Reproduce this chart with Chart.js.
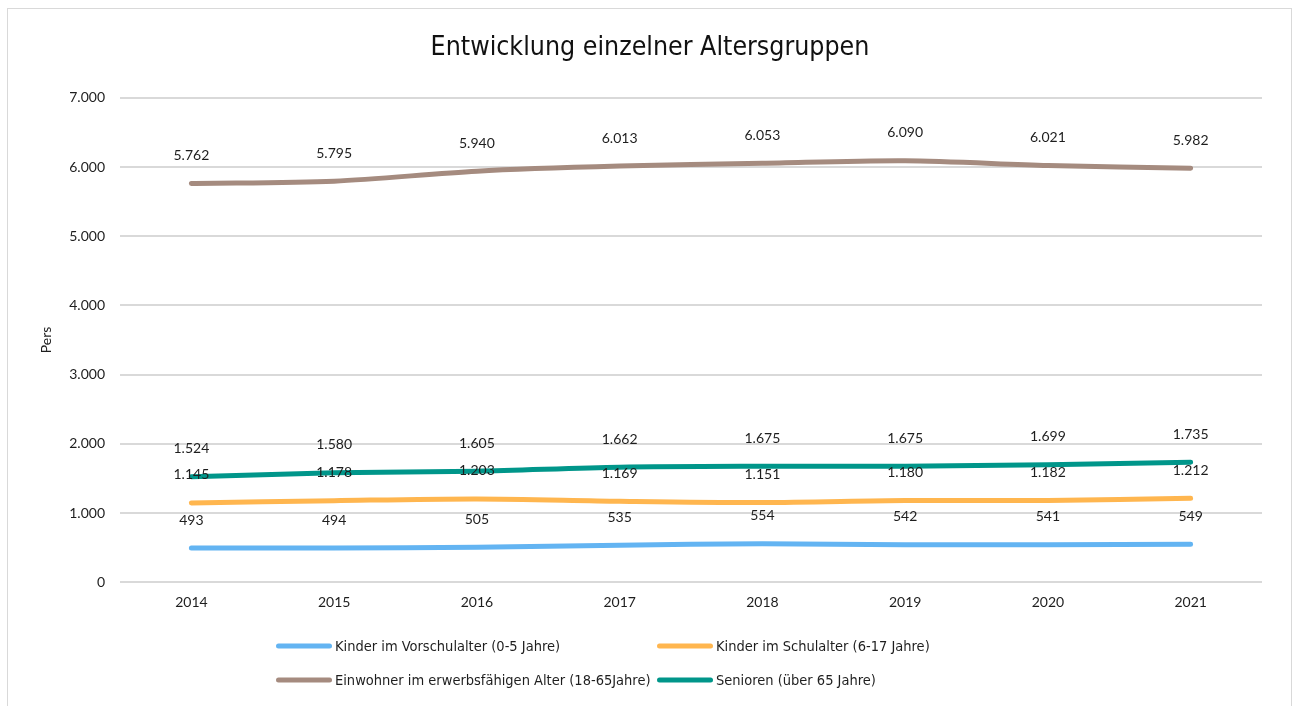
<!DOCTYPE html>
<html>
<head>
<meta charset="utf-8">
<script src="https://cdn.jsdelivr.net/npm/chart.js@4"></script>
<style>
  html, body { margin: 0; padding: 0; background: #fff; }
  #wrap { position: absolute; left: 0; top: 0; width: 1293px; height: 706px; }
</style>
</head>
<body>
<div id="wrap"><canvas id="ageChart"></canvas></div>
<script>
const years = ['2014', '2015', '2016', '2017', '2018', '2019', '2020', '2021'];
const vorschule = [493, 494, 505, 535, 554, 542, 541, 549];
const schule = [1145, 1178, 1203, 1169, 1151, 1180, 1182, 1212];
const erwerb = [5762, 5795, 5940, 6013, 6053, 6090, 6021, 5982];
const senioren = [1524, 1580, 1605, 1662, 1675, 1675, 1699, 1735];

const yTicks = [0, 1000, 2000, 3000, 4000, 5000, 6000, 7000];

// 1234 -> "1.234"
function fmt(v) {
    return String(Math.round(v)).replace(/\B(?=(\d{3})+(?!\d))/g, '.');
}

const font = "Lato, 'Open Sans', sans-serif";
const narrow = "'DejaVu Sans Condensed', Lato, sans-serif";
const textColor = '#1e1e1e';

// value labels above every point
const valueLabels = {
    id: 'valueLabels',
    afterDatasetsDraw(chart) {
        const ctx = chart.ctx;
        ctx.save();
        ctx.font = '14px ' + font;
        ctx.fillStyle = textColor;
        ctx.textAlign = 'center';
        ctx.textBaseline = 'middle';
        chart.data.datasets.forEach((ds, i) => {
            chart.getDatasetMeta(i).data.forEach((pt, j) => {
                ctx.fillText(fmt(ds.data[j]), pt.x, pt.y - 28);
            });
        });
        ctx.restore();
    }
};

// frame + two-column legend under the axis
const frameAndLegend = {
    id: 'frameAndLegend',
    beforeDraw(chart) {
        const ctx = chart.ctx;
        ctx.save();
        ctx.strokeStyle = '#d9d9d9';
        ctx.lineWidth = 1;
        ctx.strokeRect(7.5, 8.5, 1284, 710);
        ctx.restore();
    },
    afterDraw(chart) {
        const ctx = chart.ctx;
        const cols = [276, 657];
        const rows = [646, 680];
        ctx.save();
        ctx.font = '14.5px ' + narrow;
        ctx.textBaseline = 'middle';
        ctx.textAlign = 'left';
        chart.data.datasets.forEach((ds, i) => {
            const x = cols[i % 2];
            const y = rows[Math.floor(i / 2)];
            ctx.strokeStyle = ds.borderColor;
            ctx.lineWidth = 5;
            ctx.lineCap = 'round';
            ctx.beginPath();
            ctx.moveTo(x + 2.5, y);
            ctx.lineTo(x + 53.5, y);
            ctx.stroke();
            ctx.fillStyle = textColor;
            ctx.fillText(ds.label, x + 59, y + 1);
        });
        ctx.restore();
    }
};

function series(label, data, color) {
    return {
        label: label,
        data: data,
        borderColor: color,
        backgroundColor: color,
        borderWidth: 5,
        borderCapStyle: 'round',
        borderJoinStyle: 'round',
        tension: 0.3,
        pointRadius: 0,
        fill: false
    };
}

const ctxAge = document.getElementById('ageChart').getContext('2d');
const ageChart = new Chart(ctxAge, {
    type: 'line',
    data: {
        labels: years,
        datasets: [
            series('Kinder im Vorschulalter (0-5 Jahre)', vorschule, '#63b4f2'),
            series('Kinder im Schulalter (6-17 Jahre)', schule, '#ffb64f'),
            series('Einwohner im erwerbsfähigen Alter (18-65Jahre)', erwerb, '#a58b7f'),
            series('Senioren (über 65 Jahre)', senioren, '#00968a')
        ]
    },
    options: {
        responsive: true,
        maintainAspectRatio: false,
        animation: false,
        layout: {
            padding: { left: 38, right: 31, top: 0, bottom: 83 }
        },
        scales: {
            x: {
                offset: true,
                grid: { display: false, drawTicks: false },
                border: { display: false },
                ticks: {
                    padding: 12,
                    color: textColor,
                    font: { family: font, size: 14 }
                }
            },
            y: {
                min: 0,
                max: 7000,
                afterBuildTicks(scale) {
                    scale.ticks = yTicks.map(v => ({ value: v }));
                },
                afterFit(scale) {
                    scale.width = 82;
                },
                grid: { color: '#d9d9d9', lineWidth: 2, drawTicks: false },
                border: { display: false },
                ticks: {
                    padding: 15,
                    color: textColor,
                    font: { family: font, size: 14 },
                    callback: v => fmt(v)
                },
                title: {
                    display: true,
                    text: 'Pers',
                    color: textColor,
                    font: { family: font, size: 14 },
                    padding: 0
                }
            }
        },
        plugins: {
            legend: { display: false },
            tooltip: { enabled: false },
            title: {
                display: true,
                text: 'Entwicklung einzelner Altersgruppen',
                color: '#111111',
                font: { family: narrow, size: 26.5, weight: 'normal' },
                padding: { top: 32, bottom: 34 }
            }
        }
    },
    plugins: [valueLabels, frameAndLegend]
});
</script>
</body>
</html>
